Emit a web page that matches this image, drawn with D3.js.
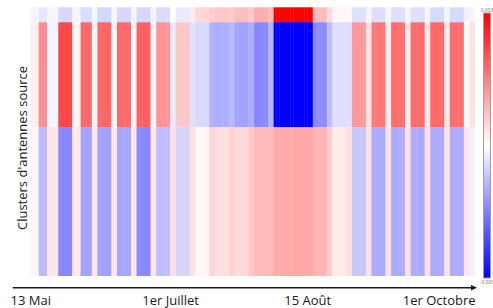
<!DOCTYPE html>
<html><head><meta charset="utf-8">
<script src="https://cdn.jsdelivr.net/npm/d3@7"></script>
<style>html,body{margin:0;padding:0;background:#fff;} svg{display:block}</style>
</head><body>
<svg id="c" width="493" height="308"></svg>
<script>
// ---- DATA (values in units of 1e-3) ----
const clusters = ["Cluster 1", "Cluster 2", "Cluster 3"];
const clusterAntennas = [15, 105, 149];
// daily values, one column per day, starting Fri 3 May 2013
const topValues = [
  -0.12,-0.12,-0.12,-0.3,-0.3,-0.3,-0.12,-0.12,-0.12,-0.12,
  -0.48,-0.48,-0.48,-0.48,-0.48,-0.12,-0.12,
  -0.12,-0.42,-0.42,-0.42,-0.42,-0.12,-0.12,
  -0.48,-0.48,-0.48,-0.48,-0.48,-0.12,-0.12,
  -0.48,-0.48,-0.48,-0.48,-0.48,-0.12,-0.12,
  -0.48,-0.48,-0.48,-0.48,-0.48,-0.12,-0.12,
  -0.42,-0.42,-0.42,-0.42,-0.42,0,0,
  -0.24,-0.24,-0.24,-0.24,-0.24,0.24,0.24,
  0.48,0.48,0.48,0.48,0.48,0.6,0.6,
  0.66,0.66,0.66,0.66,0.66,0.6,0.6,
  0.78,0.78,0.78,0.78,0.78,0.6,0.6,
  0.96,0.96,0.96,0.96,0.96,0.78,0.78,
  3,3,3,3,3,3,3,
  3,3,3,3,3,3,3,
  0.81,0.81,0.81,0.81,0.81,0.42,0.42,
  0.09,0.09,0.09,0.09,0.09,0.09,0.09,
  -0.36,-0.36,-0.36,-0.36,-0.36,-0.12,-0.12,
  -0.39,-0.39,-0.39,-0.39,-0.39,-0.12,-0.12,
  -0.39,-0.39,-0.39,-0.39,-0.39,-0.12,-0.12,
  -0.39,-0.39,-0.39,-0.39,-0.39,-0.12,-0.12,
  -0.45,-0.45,-0.45,-0.45,-0.45,-0.12,-0.12,
  -0.45,-0.45,-0.45,-0.45,-0.45,-0.18,-0.18,
  -0.12,-0.12
];
const middleValues = [
  0.18,0.18,0.18,1.35,1.35,1.35,-0.12,-0.12,-0.12,-0.12,
  2.16,2.16,2.16,2.16,2.16,0.12,0.12,
  0.12,1.8,1.8,1.8,1.8,0.09,0.09,
  1.8,1.8,1.8,1.8,1.8,0.09,0.09,
  1.74,1.74,1.74,1.74,1.74,0.09,0.09,
  1.86,1.86,1.86,1.86,1.86,-0.09,-0.09,
  1.26,1.26,1.26,1.26,1.26,-0.24,-0.24,
  0.66,0.66,0.66,0.66,0.66,-0.36,-0.36,
  -0.45,-0.45,-0.45,-0.45,-0.45,-0.9,-0.9,
  -0.96,-0.96,-0.96,-0.96,-0.96,-0.81,-0.81,
  -1.08,-1.08,-1.08,-1.08,-1.08,-0.96,-0.96,
  -1.41,-1.41,-1.41,-1.41,-1.41,-0.9,-0.9,
  -3,-3,-3,-3,-3,-3,-3,
  -3,-3,-3,-3,-3,-3,-3,
  -1.35,-1.35,-1.35,-1.35,-1.35,-0.78,-0.78,
  -0.39,-0.39,-0.39,-0.39,-0.39,-0.39,-0.39,
  1.2,1.2,1.2,1.2,1.2,0.3,0.3,
  1.59,1.59,1.59,1.59,1.59,0.24,0.24,
  1.71,1.71,1.71,1.71,1.71,0.24,0.24,
  1.74,1.74,1.74,1.74,1.74,0.24,0.24,
  1.77,1.77,1.77,1.77,1.77,0.24,0.24,
  1.71,1.71,1.71,1.71,1.71,0,0,
  0.36,0.36
];
const bottomValues = [
  0.12,0.12,0.12,-0.81,-0.81,-0.81,0.3,0.3,0.3,0.3,
  -1.41,-1.41,-1.41,-1.41,-1.41,0.3,0.3,
  0.3,-1.11,-1.11,-1.11,-1.11,0.3,0.3,
  -1.11,-1.11,-1.11,-1.11,-1.11,0.3,0.3,
  -1.05,-1.05,-1.05,-1.05,-1.05,0.3,0.3,
  -1.41,-1.41,-1.41,-1.41,-1.41,0.3,0.3,
  -0.75,-0.75,-0.75,-0.75,-0.75,0.36,0.36,
  -0.51,-0.51,-0.51,-0.51,-0.51,0.36,0.36,
  0.09,0.09,0.09,0.09,0.09,0.48,0.48,
  0.36,0.36,0.36,0.36,0.36,0.54,0.54,
  0.45,0.45,0.45,0.45,0.45,0.66,0.66,
  0.81,0.81,0.81,0.81,0.81,0.81,0.81,
  0.99,0.99,0.99,0.99,0.99,0.99,0.99,
  1.05,1.05,1.05,1.05,1.05,1.05,1.05,
  0.87,0.87,0.87,0.87,0.87,0.6,0.6,
  0.24,0.24,0.24,0.24,0.24,0.36,0.36,
  -0.66,-0.66,-0.66,-0.66,-0.66,0.36,0.36,
  -0.99,-0.99,-0.99,-0.99,-0.99,0.36,0.36,
  -0.99,-0.99,-0.99,-0.99,-0.99,0.36,0.36,
  -0.99,-0.99,-0.99,-0.99,-0.99,0.36,0.36,
  -0.99,-0.99,-0.99,-0.99,-0.99,0.36,0.36,
  -0.99,-0.99,-0.99,-0.99,-0.99,0.3,0.3,
  -0.18,-0.18
];
const tickDays = [0, 50, 99, 146];
const tickLabels = ["13 Mai", "1er Juillet", "15 Août", "1er Octobre"];
const colorLimits = [-3, 3];
const yTitle = "Clusters d'antennes source";

// ---- DRAW ----
const rows = [topValues, middleValues, bottomValues];
const N = topValues.length;
const svg = d3.select("#c");
const font = "'Open Sans', 'Liberation Sans', sans-serif";

const x = d3.scaleLinear().domain([0, N]).range([30.3, 475]);
const cum = [0];
clusterAntennas.forEach(v => cum.push(cum[cum.length - 1] + v));
const y = d3.scaleLinear().domain([0, cum[cum.length - 1]]).range([7.3, 276]);
const color = d3.scaleLinear().domain([colorLimits[0], 0, colorLimits[1]])
  .range(["#0000ff", "#ffffff", "#ff0000"]).clamp(true);

const cells = [];
rows.forEach((vals, r) => vals.forEach((v, i) => cells.push({r, i, v})));
svg.append("g").selectAll("rect").data(cells).join("rect")
  .attr("x", d => x(d.i))
  .attr("width", d => x(d.i + 1) - x(d.i) + (d.i < N - 1 ? 0.4 : 0))
  .attr("y", d => y(cum[d.r]))
  .attr("height", d => y(cum[d.r + 1]) - y(cum[d.r]) + (d.r < 2 ? 0.4 : 0))
  .attr("fill", d => color(d.v));

// x axis
const axisY = 287.7;
svg.append("line").attr("x1", 12.7).attr("x2", 472).attr("y1", axisY).attr("y2", axisY)
  .attr("stroke", "#1a1a1a").attr("stroke-width", 1.4);
svg.append("path").attr("d", `M477,${axisY} L471,${axisY - 2.8} L471,${axisY + 2.8} Z`).attr("fill", "#1a1a1a");
const ax = svg.append("g").attr("transform", `translate(0,${axisY})`)
  .call(d3.axisBottom(x).tickValues(tickDays).tickFormat((d, k) => tickLabels[k]).tickSize(0).tickPadding(8));
ax.select(".domain").remove();
ax.selectAll("text").attr("font-family", font).attr("font-size", 13).attr("fill", "#1a1a1a");

// y title
svg.append("text").attr("transform", "translate(26.5,148) rotate(-90)")
  .attr("text-anchor", "middle").attr("font-family", font).attr("font-size", 13)
  .attr("fill", "#1a1a1a").text(yTitle);

// colour bar
const cb = {x: 483.5, y0: 13, y1: 278, w: 7};
const grad = svg.append("defs").append("linearGradient").attr("id", "g")
  .attr("x1", 0).attr("x2", 0).attr("y1", 0).attr("y2", 1);
d3.range(0, 1.0001, 0.1).forEach(t => {
  grad.append("stop").attr("offset", t).attr("stop-color", color(colorLimits[1] + t * (colorLimits[0] - colorLimits[1])));
});
svg.append("rect").attr("x", cb.x).attr("y", cb.y0).attr("width", cb.w).attr("height", cb.y1 - cb.y0)
  .attr("fill", "url(#g)").attr("stroke", "#a0a0a0").attr("stroke-width", 1);
const cbScale = d3.scaleLinear().domain([colorLimits[1], colorLimits[0]]).range([cb.y0, cb.y1]);
svg.selectAll(".cbl").data([colorLimits[1], colorLimits[0]]).join("text")
  .attr("x", cb.x + cb.w / 2)
  .attr("y", d => d > 0 ? cbScale(d) - 1.5 : cbScale(d) + 5.5)
  .attr("text-anchor", "middle").attr("font-family", font).attr("font-size", 5)
  .attr("fill", "#666").text(d => (d / 1000).toFixed(3));
</script>
</body></html>
